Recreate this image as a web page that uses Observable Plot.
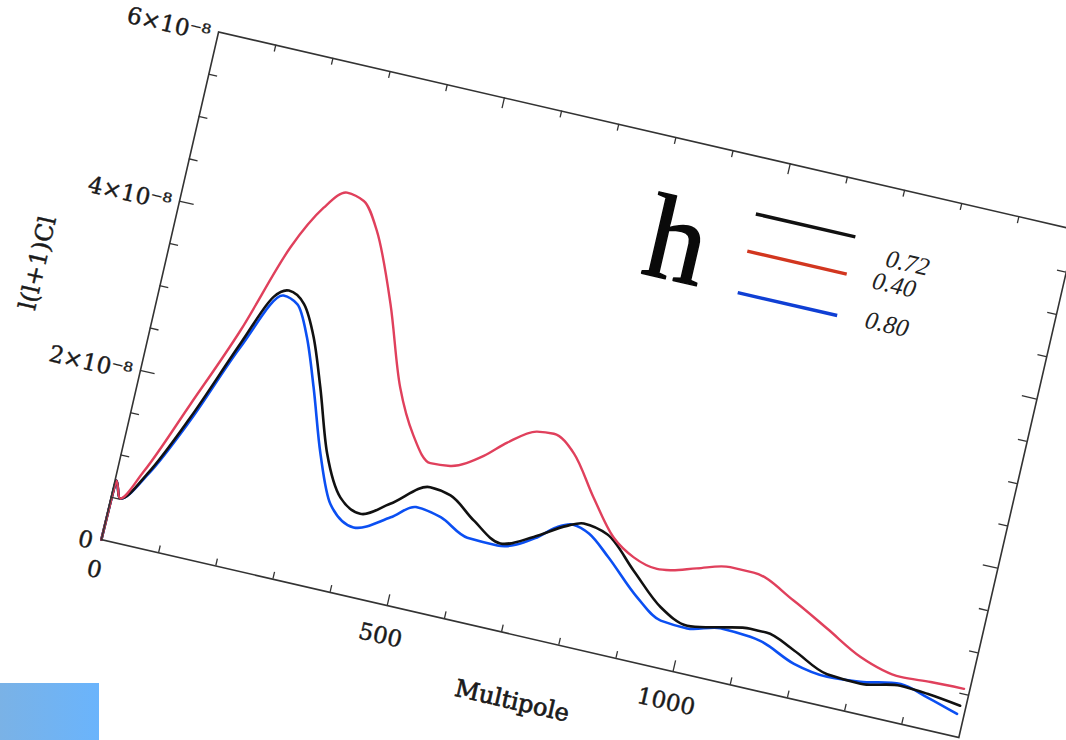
<!DOCTYPE html>
<html><head><meta charset="utf-8">
<script src="https://cdn.jsdelivr.net/npm/d3@7"></script>
<script src="https://cdn.jsdelivr.net/npm/@observablehq/plot@0.6"></script>
<style>
html,body{margin:0;padding:0;background:#fff;width:1066px;height:740px;overflow:hidden;position:relative;}
#chart{position:absolute;left:-39px;top:-2px;transform-origin:140px 541px;transform:rotate(13deg);}
#patch{position:absolute;left:0;top:683px;width:99px;height:57px;background:linear-gradient(to right,#7ab2e6,#6ab4fc);}
</style></head><body>
<div id="chart"></div><div id="patch"></div>
<script>
// Multipole ℓ and l(l+1)Cl (units of 1e-8) for each h
const ellRed   = [0, 2, 15, 44, 96, 151, 202, 242, 275, 306, 339, 390, 438, 478, 517, 551, 603, 637, 682, 711, 752, 801, 850, 891, 934, 957, 1000, 1055, 1096, 1173, 1240, 1306, 1380, 1432, 1490];
const clRed    = [0, 0.70, 0.51, 0.87, 1.75, 2.71, 3.77, 4.30, 4.53, 4.48, 4.18, 3.39, 2.48, 1.98, 1.71, 1.73, 1.93, 2.14, 2.34, 2.36, 2.19, 1.75, 1.35, 1.18, 1.11, 1.13, 1.22, 1.32, 1.32, 1.11, 0.88, 0.65, 0.53, 0.55, 0.56];

const ellBlack = [0, 2, 15, 53, 101, 157, 193, 216, 246, 275, 305, 342, 381, 420, 466, 526, 563, 611, 664, 717, 768, 795, 838, 896, 955, 1006, 1062, 1112, 1140, 1193, 1257, 1316, 1383, 1431, 1490];
const clBlack  = [0, 0.70, 0.51, 0.88, 1.60, 2.58, 3.17, 3.28, 3.17, 2.82, 2.28, 1.55, 1.09, 0.96, 1.15, 1.44, 1.40, 1.18, 0.99, 1.15, 1.36, 1.43, 1.37, 1.03, 0.69, 0.55, 0.62, 0.68, 0.68, 0.55, 0.37, 0.35, 0.43, 0.41, 0.36];

const ellBlue  = [0, 2, 15, 53, 102, 157, 209, 235, 264, 294, 331, 367, 414, 472, 510, 555, 607, 660, 720, 752, 778, 808, 848, 912, 960, 1007, 1062, 1115, 1133, 1198, 1258, 1315, 1383, 1432, 1488];
const clBlue   = [0, 0.70, 0.51, 0.86, 1.57, 2.52, 3.21, 3.15, 2.80, 2.26, 1.53, 0.99, 0.79, 1.00, 1.18, 1.13, 0.97, 0.96, 1.14, 1.32, 1.39, 1.33, 1.12, 0.74, 0.54, 0.52, 0.61, 0.59, 0.57, 0.40, 0.34, 0.37, 0.45, 0.37, 0.26];

const hValues = ["0.72", "0.40", "0.80"];
const xTickLabels = [0, 500, 1000];
const yTickValues = [0, 2, 4, 6];
const xTitle = "Multipole";
const yTitle = "l(l+1)Cl";
const legendTitle = "h";

// styling / layout (not data)
const curveColor = {"0.72": "#111111", "0.40": "#e0405c", "0.80": "#0b4ff2"};
const legendColor = {"0.72": "#111111", "0.40": "#d2361f", "0.80": "#0f3fd4"};
const legendLayout = {"0.72": {y: 5.35, ly: 5.19, lx: 1233}, "0.40": {y: 4.91, ly: 4.91, lx: 1219}, "0.80": {y: 4.42, ly: 4.45, lx: 1222}};
const W = 880, H = 521, mL = 140, mR = 30, mT = 20, mB = 90;
const pxX = 1500 / W, pxY = 6 / H;

const toRows = (ell, cl, h) => ell.map((l, i) => ({ell: l, cl: cl[i], h}));
const rowsBlack = toRows(ellBlack, clBlack, "0.72");
const rowsRed = toRows(ellRed, clRed, "0.40");
const rowsBlue = toRows(ellBlue, clBlue, "0.80");

const xMinor = d3.range(100, 1500, 100).filter(d => d % 500 !== 0);
const xMajor = [500, 1000];
const yMinor = d3.range(0.5, 6, 0.5).filter(d => d % 2 !== 0);
const yMajor = [2, 4];
const axisC = "#333";
const labelStyle = {fontSize: 23, fill: "#1a1a1a", stroke: "#1a1a1a", strokeWidth: 0.45};

const chart = Plot.plot({
  width: mL + W + mR, height: mT + H + mB,
  marginLeft: mL, marginRight: mR, marginTop: mT, marginBottom: mB,
  x: {domain: [0, 1500], axis: null},
  y: {domain: [0, 6], axis: null},
  style: {background: "transparent", fontFamily: "DejaVu Serif", overflow: "visible"},
  marks: [
    Plot.line(rowsBlue, {x: "ell", y: "cl", stroke: curveColor["0.80"], strokeWidth: 2.6, curve: "monotone-x"}),
    Plot.line(rowsBlack, {x: "ell", y: "cl", stroke: curveColor["0.72"], strokeWidth: 2.6, curve: "monotone-x"}),
    Plot.line(rowsRed, {x: "ell", y: "cl", stroke: curveColor["0.40"], strokeWidth: 2.4, curve: "monotone-x"}),
    Plot.frame({stroke: axisC, strokeWidth: 1.6}),
    // inward ticks
    Plot.ruleX(xMinor, {x: d => d, y1: 0, y2: 7 * pxY, stroke: axisC, strokeWidth: 1.3}),
    Plot.ruleX(xMajor, {x: d => d, y1: 0, y2: 11 * pxY, stroke: axisC, strokeWidth: 1.3}),
    Plot.ruleX(xMinor, {x: d => d, y1: 6, y2: 6 - 7 * pxY, stroke: axisC, strokeWidth: 1.3}),
    Plot.ruleX(xMajor, {x: d => d, y1: 6, y2: 6 - 11 * pxY, stroke: axisC, strokeWidth: 1.3}),
    Plot.ruleY(yMinor, {y: d => d, x1: 0, x2: 9 * pxX, stroke: axisC, strokeWidth: 1.3}),
    Plot.ruleY(yMajor, {y: d => d, x1: 0, x2: 15 * pxX, stroke: axisC, strokeWidth: 1.3}),
    Plot.ruleY(yMinor, {y: d => d, x1: 1500, x2: 1500 - 9 * pxX, stroke: axisC, strokeWidth: 1.3}),
    Plot.ruleY(yMajor, {y: d => d, x1: 1500, x2: 1500 - 15 * pxX, stroke: axisC, strokeWidth: 1.3}),
    // tick labels
    Plot.text(xTickLabels, {x: d => d, y: 0, dy: 31, text: d => String(d), ...labelStyle}),
    Plot.text(yTickValues, {x: 0, y: d => d, dx: -8, dy: 4, textAnchor: "end", text: d => d === 0 ? "0" : `${d}×10⁻⁸`, ...labelStyle}),
    // axis titles
    Plot.text([xTitle], {x: 744, y: -65 * pxY, text: d => d, ...labelStyle, fontSize: 24, strokeWidth: 0.7}),
    Plot.text([yTitle], {x: -124 * pxX, y: 2.94, text: d => d, rotate: -90, ...labelStyle, fontSize: 24}),
    // legend
    Plot.text([legendTitle], {x: 842, y: 4.83, text: d => d, fontSize: 120, fontFamily: "Liberation Serif", fill: "#0a0a0a", stroke: "#0a0a0a", strokeWidth: 1.5}),
    Plot.ruleY(hValues, {y: d => legendLayout[d].y, x1: 963, x2: 1137, stroke: d => legendColor[d], strokeWidth: 3.5}),
    Plot.text(hValues, {x: d => legendLayout[d].lx, y: d => legendLayout[d].ly, text: d => d, fontSize: 25, fontFamily: "Liberation Serif", fontStyle: "italic", fill: "#222"})
  ]
});
document.getElementById("chart").appendChild(chart);
</script></body></html>
